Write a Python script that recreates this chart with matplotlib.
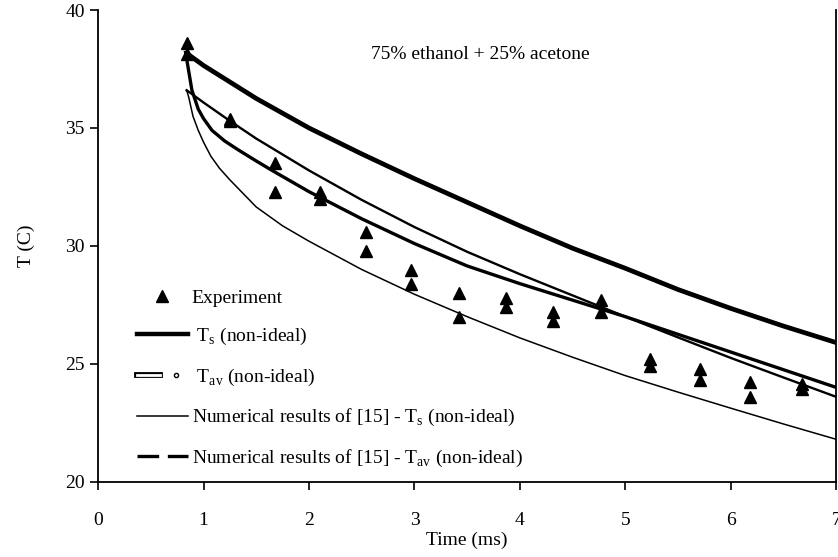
import numpy as np
import matplotlib
matplotlib.use('Agg')
import matplotlib.pyplot as plt
from matplotlib.lines import Line2D
from matplotlib.legend_handler import HandlerTuple
import matplotlib.patheffects as pe

plt.rcParams['font.family'] = ['Liberation Serif', 'DejaVu Serif']
plt.rcParams['mathtext.fontset'] = 'custom'
plt.rcParams['mathtext.rm'] = 'Liberation Serif'

# model curves
time_ts = [0.83, 1.0, 1.5, 2.0, 2.5, 3.0, 3.5, 4.0, 4.5, 5.0, 5.5, 6.0, 6.5, 7.0]
temp_ts = [38.2, 37.65, 36.25, 35.0, 33.9, 32.85, 31.85, 30.85, 29.9, 29.05, 28.15, 27.35, 26.6, 25.9]

time_tav = [0.83, 0.86, 0.89, 0.95, 1.0, 1.08, 1.2, 1.33, 1.5, 1.65, 2.0, 2.5, 3.0, 3.5, 4.0,
            4.5, 5.0, 5.5, 6.0, 6.5, 7.0]
temp_tav = [38.2, 37.4, 36.6, 35.8, 35.4, 34.9, 34.45, 34.07, 33.6, 33.2, 32.3, 31.15, 30.1, 29.15, 28.4,
            27.7, 27.0, 26.25, 25.5, 24.75, 24.0]

time_num_a = [0.84, 1.0, 1.25, 1.5, 2.0, 2.5, 3.0, 3.5, 4.0, 4.5, 5.0, 5.5, 6.0, 6.5, 7.0]
temp_num_a = [36.6, 36.08, 35.3, 34.55, 33.2, 31.95, 30.8, 29.75, 28.8, 27.9, 27.0, 26.12, 25.25, 24.42, 23.6]

time_num_b = [0.84, 0.86, 0.9, 0.95, 1.0, 1.07, 1.15, 1.25, 1.5, 1.75, 2.0, 2.5, 3.0, 3.5, 4.0,
              4.5, 5.0, 5.5, 6.0, 6.5, 7.0]
temp_num_b = [36.6, 36.3, 35.5, 34.9, 34.4, 33.8, 33.3, 32.8, 31.65, 30.85, 30.2, 29.0, 27.95, 27.0, 26.1,
              25.28, 24.5, 23.8, 23.12, 22.45, 21.8]

# experiment (two readings per time)
exp_time = [0.84, 0.84, 1.25, 1.25, 1.68, 1.68, 2.1, 2.1, 2.54, 2.54, 2.97, 2.97, 3.42, 3.42,
            3.87, 3.87, 4.31, 4.31, 4.77, 4.77, 5.23, 5.23, 5.71, 5.71, 6.18, 6.18, 6.67, 6.67]
exp_temp = [38.6, 38.15, 35.4, 35.3, 33.5, 32.3, 32.3, 32.0, 30.6, 29.8, 29.0, 28.4, 28.0, 27.0,
            27.8, 27.4, 27.2, 26.8, 27.7, 27.2, 25.2, 24.9, 24.8, 24.3, 24.25, 23.6, 24.15, 23.95]

fig = plt.figure(figsize=(8.38, 5.57), dpi=100)
ax = fig.add_axes([0.117, 0.135, 0.881, 0.847])

ax.plot(time_ts, temp_ts, color='black', lw=3.4, solid_capstyle='butt')
ax.plot(time_tav, temp_tav, color='black', lw=2.4)
ax.plot(time_num_a, temp_num_a, color='black', lw=1.7)
ax.plot(time_num_b, temp_num_b, color='black', lw=1.1)
ax.plot(exp_time, exp_temp, ls='none', marker='^', color='black', ms=8)

ax.set_xlim(0, 7)
ax.set_ylim(20, 40)
ax.set_xticks(range(0, 8))
ax.set_yticks(range(20, 41, 5))
ax.tick_params(direction='out', length=6, width=1.2, labelsize=14)
ax.tick_params(axis='x', pad=16)
ax.spines['top'].set_visible(False)
for s in ['left', 'bottom', 'right']:
    ax.spines[s].set_linewidth(1.3)
ax.set_xlabel('Time (ms)', fontsize=14, labelpad=2)
ax.set_ylabel('T (C)', fontsize=14, labelpad=22)

ax.text(0.518, 0.905, '75% ethanol + 25% acetone', transform=ax.transAxes,
        ha='center', va='center', fontsize=14)

# legend handles
h_exp = Line2D([], [], ls='none', marker='^', color='black', ms=8)
h_ts = Line2D([], [], color='black', lw=3.2)
h_tav_line = Line2D([], [], color='white', lw=2.0,
                    path_effects=[pe.Stroke(linewidth=4.2, foreground='black'), pe.Normal()])
h_tav_dot = Line2D([], [], ls='none', marker='o', ms=3, mfc='white', mec='black', mew=1)
h_num_a = Line2D([], [], color='black', lw=1.1)
h_num_b = Line2D([], [], color='black', lw=2.4, dashes=(6.5, 2.6))

labels = ['Experiment',
          r' T$_\mathregular{s}$ (non-ideal)',
          r' T$_\mathregular{av}$ (non-ideal)',
          r'Numerical results of [15] - T$_\mathregular{s}$ (non-ideal)',
          r'Numerical results of [15] - T$_\mathregular{av}$ (non-ideal)']
ax.legend([h_exp, h_ts, (h_tav_line, h_tav_dot), h_num_a, h_num_b], labels,
          handler_map={tuple: HandlerTuple(ndivide=None, pad=0.2)},
          loc='lower left', bbox_to_anchor=(0.029, -0.01), frameon=False,
          fontsize=14, handlelength=2.62, handletextpad=0.2, labelspacing=1.0)

fig.savefig('out.png', dpi=100)
